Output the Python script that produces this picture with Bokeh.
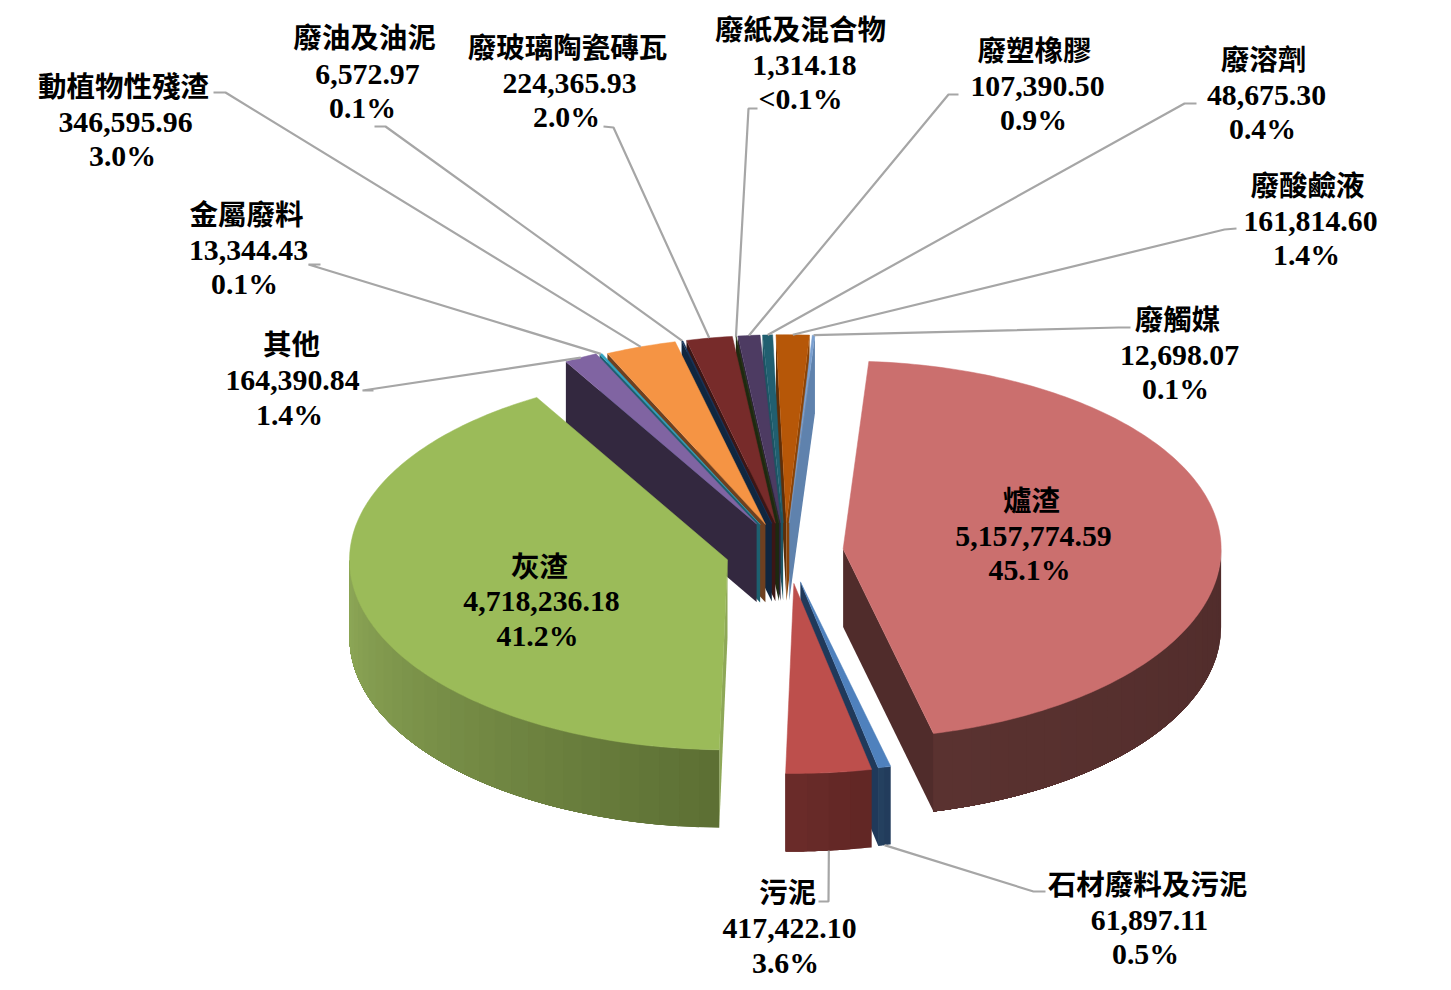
import math
from bokeh.plotting import figure
from bokeh.models import Range1d
from bokeh.core.properties import value
from bokeh.embed import file_html
from bokeh.resources import INLINE

names = ["爐渣", "石材廢料及污泥", "污泥", "灰渣", "其他", "金屬廢料", "動植物性殘渣", "廢油及油泥",
         "廢玻璃陶瓷磚瓦", "廢紙及混合物", "廢塑橡膠", "廢溶劑", "廢酸鹼液", "廢觸媒"]
values = [5157774.59, 61897.11, 417422.10, 4718236.18, 164390.84, 13344.43, 346595.96, 6572.97,
          224365.93, 1314.18, 107390.50, 48675.30, 161814.60, 12698.07]
percents = ["45.1%", "0.5%", "3.6%", "41.2%", "1.4%", "0.1%", "3.0%", "0.1%",
            "2.0%", "<0.1%", "0.9%", "0.4%", "1.4%", "0.1%"]

top_colors = ["#cb6f6e", "#4f81bd", "#bd4f4c", "#9bbb59", "#8064a2", "#31a3c0", "#f59444", "#17375e",
              "#772b2a", "#2d3d18", "#4d3b62", "#215f70", "#b65708", "#7ba0d0"]
wall_left = ["#5a3230", "#24405f", "#6a2b29", "#8ea857", "#33283f", "#1d6070", "#6e4020", "#10263f",
             "#3c1615", "#1e2910", "#2c2139", "#1c5563", "#5e2e08", "#5f82ad"]
wall_right = ["#502c2b", "#20395a", "#5f2624", "#5b6e33", "#33283f", "#1d6070", "#6e4020", "#10263f",
              "#3c1615", "#1e2910", "#2c2139", "#1c5563", "#8a4306", "#5f82ad"]

# per-slice tweak for the reference's slight perspective
nudge = [(0, 0), (2, 2), (3, 3), (-2, 1), (-2, -2), (-1, -1), (-1, 0), (0, 0),
         (0, 0), (0, 0), (0, 0), (0, 0), (0, 0), (0, 0)]

label_xy = [
    ((1031, 498), (1033, 535.5), (1029, 568.5)),
    ((1147, 882), (1149, 919.5), (1145, 952.5)),
    ((787, 890), (789, 927.5), (785, 961.5)),
    ((539, 564), (541, 600.5), (537, 634.5)),
    ((291, 342), (292, 379.5), (289, 413.5)),
    ((246, 212), (248, 249.5), (244, 282.5)),
    ((123, 84), (125, 121.5), (122, 154.5)),
    ((364, 35), (367, 73.5), (362, 106.5)),
    ((567, 45), (569, 82.5), (566, 115.5)),
    ((800, 27), (804, 64.5), (800, 97.5)),
    ((1034, 48), (1037, 85.5), (1033, 118.5)),
    ((1263, 57), (1266, 94.5), (1262, 127.5)),
    ((1307, 183), (1310, 220.5), (1306, 253.5)),
    ((1177, 317), (1179, 354.5), (1175, 387.5)),
]
leaders = [None,
           ((1045, 891), (1033, 891)),
           ((818, 901), (828, 901)),
           None,
           ((373, 390), (362, 390)),
           ((320, 264), (308, 264)),
           ((213, 92), (225, 92)),
           ((374, 126), (385, 126)),
           ((603, 126), (613, 127)),
           ((757, 108), (748, 108)),
           ((958, 94), (948, 94)),
           ((1196, 103), (1184, 103)),
           ((1236, 228), (1224, 229)),
           ((1130, 327), (1118, 327))]

CX, CY, RX, RY, RYF, DEPTH = 785.0, 551.0, 378.0, 188.0, 190.0, 78.0
EXPLODE, START = 0.153, 3.9

p = figure(width=1435, height=982, output_backend="svg", toolbar_location=None,
           x_range=Range1d(0, 1435), y_range=Range1d(982, 0),
           x_axis_type=None, y_axis_type=None, min_border=0,
           outline_line_color=None, background_fill_color="white")
p.grid.visible = False

def lerp(a, b, t):
    ca = [int(a[i:i + 2], 16) for i in (1, 3, 5)]
    cb = [int(b[i:i + 2], 16) for i in (1, 3, 5)]
    return "#%02x%02x%02x" % tuple(round(x + (y - x) * t) for x, y in zip(ca, cb))

total = sum(values)
slices = []
angle = START
for i, v in enumerate(values):
    span = v / total * 360
    slices.append((i, angle, angle + span))
    angle += span

def pt(a, ox, oy, r=1.0):
    t = math.radians(a)
    c = math.cos(t)
    return ox + r * RX * math.sin(t), oy - r * (RY if c > 0 else RYF) * c

def origin(i, a0, a1):
    x, y = pt((a0 + a1) / 2, CX, CY, EXPLODE)
    return x + nudge[i][0], y + nudge[i][1]

def quad(xs, ys, color):
    p.patch(xs, ys, fill_color=color, line_color=None)

for i, a0, a1 in sorted(slices, key=lambda s: -math.cos(math.radians((s[1] + s[2]) / 2))):
    ox, oy = origin(i, a0, a1)
    if -math.sin(math.radians(a0)) > 0:
        x, y = pt(a0, ox, oy)
        quad([ox, x, x, ox], [oy, y, y + DEPTH, oy + DEPTH], wall_left[i])
    if math.sin(math.radians(a1)) > 0:
        x, y = pt(a1, ox, oy)
        quad([ox, x, x, ox], [oy, y, y + DEPTH, oy + DEPTH], wall_right[i])
    lo, hi = max(a0, 90), min(a1, 270)
    if hi > lo:
        n = max(2, int((hi - lo) / 3))
        for k in range(n):
            b0 = lo + (hi - lo) * k / n
            b1 = hi
            steps = [b0 + (b1 - b0) * j / 24 for j in range(25)]
            arc = [pt(b, ox, oy) for b in steps]
            t = (k + 1) / n
            xs = [q[0] for q in arc] + [q[0] for q in reversed(arc)]
            ys = [q[1] for q in arc] + [q[1] + DEPTH for q in reversed(arc)]
            quad(xs, ys, lerp(wall_right[i], wall_left[i], t))
    n = max(2, int((a1 - a0) / 1.0))
    arc = [pt(a0 + (a1 - a0) * k / n, ox, oy) for k in range(n + 1)]
    p.patch([ox] + [q[0] for q in arc], [oy] + [q[1] for q in arc],
            fill_color=top_colors[i], line_color=top_colors[i], line_width=0.5)

for i, a0, a1 in slices:
    if leaders[i] is None:
        continue
    ox, oy = origin(i, a0, a1)
    m = (a0 + a1) / 2
    ex, ey = pt(m, ox, oy)
    if math.cos(math.radians(m)) < 0:
        ey += DEPTH
    (sx, sy), (bx, by) = leaders[i]
    p.line([sx, bx, ex], [sy, by, ey], line_color="#a6a6a6", line_width=2.2)

for i, name in enumerate(names):
    (nx, ny), (vx, vy), (cx, cy) = label_xy[i]
    p.text([nx], [ny], text=[name], text_font=value("Noto Sans CJK TC"), text_font_size="28.5px",
           text_font_style="bold", text_align="center", text_baseline="middle", text_color="black")
    p.text([vx, cx], [vy, cy], text=[f"{values[i]:,.2f}", percents[i]], text_font=value("Liberation Serif"),
           text_font_size="29.8px", text_font_style="bold", text_align="center", text_baseline="middle",
           text_color="black")

open("out.html", "w").write(file_html(p, INLINE))
